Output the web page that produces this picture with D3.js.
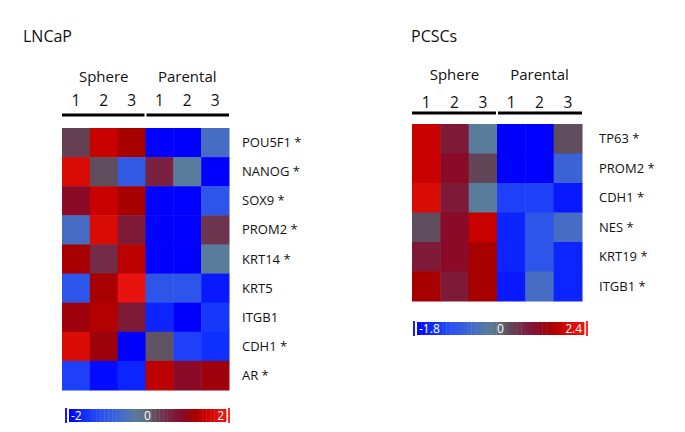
<!DOCTYPE html>
<html><head><meta charset="utf-8">
<script src="https://cdnjs.cloudflare.com/ajax/libs/d3/7.8.5/d3.min.js"></script>
<style>body{margin:0;background:#fff}svg{display:block}text{font-family:"Open Sans",sans-serif}</style>
</head><body><svg id="c" width="685" height="432"></svg>
<script>
const samples = ["1","2","3","1","2","3"];
const groups = ["Sphere","Parental"];
const lncapGenes = ["POU5F1 *","NANOG *","SOX9 *","PROM2 *","KRT14 *","KRT5","ITGB1","CDH1 *","AR *"];
const lncapValues = [
  [0.3,1.5,1.2,-2,-2,-0.6],
  [1.7,0.18,-1.0,0.6,-0.3,-2],
  [0.9,1.5,1.2,-2,-2,-1.1],
  [-0.6,1.7,0.7,-2,-2,0.4],
  [1.2,0.5,1.4,-2,-2,-0.3],
  [-1.1,1.2,1.9,-1.1,-1.1,-1.8],
  [1.1,1.3,0.7,-1.7,-2,-1.5],
  [1.7,1.1,-2,0.14,-1.4,-1.6],
  [-1.4,-1.9,-1.7,1.4,0.9,1.1]
];
const lncapLegend = ["-2","0","2"];
const pcscGenes = ["TP63 *","PROM2 *","CDH1 *","NES *","KRT19 *","ITGB1 *"];
const pcscValues = [
  [1.8,0.84,-0.27,-1.8,-1.8,0.22],
  [1.8,1.08,0.3,-1.8,-1.8,-0.72],
  [2.04,0.84,-0.27,-1.26,-1.26,-1.62],
  [0.22,1.08,1.8,-1.53,-0.99,-0.54],
  [0.84,1.08,1.44,-1.53,-0.99,-1.53],
  [1.44,0.84,1.44,-1.62,-0.54,-1.53]
];
const pcscLegend = ["-1.8","0","2.4"];

// normalized color ramp
const tStops = [-1,-0.8,-0.6,-0.35,-0.15,0,0.1,0.3,0.45,0.6,0.75,0.9,1];
const cStops = ["#0000ff","#1030ff","#2a50f0","#4068d0","#5a7c9c","#646a7a","#5e4a5a","#7a2040","#8a0a28","#a80000","#c80000","#e01008","#f01414"];
const ramp = d3.scaleLinear().domain(tStops).range(cStops).interpolate(d3.interpolateRgb).clamp(true);

const svg = d3.select("#c");

function panel(o){
  const g = svg.append("g");
  const norm = d3.scaleLinear().domain([o.min,0,o.max]).range([-1,0,1]);
  const x = d3.scaleBand().domain(d3.range(6)).range([o.x0,o.x1]);
  const y = d3.scaleBand().domain(o.genes).range([o.y0,o.y1]);
  g.append("text").attr("x",o.titleX).attr("y",42).attr("font-size",16).attr("fill","#111").text(o.title);
  const gx = d3.scaleBand().domain(groups).range([o.x0,o.x1]);
  g.selectAll(".grp").data(groups).join("text")
    .attr("x",d=>gx(d)+gx.bandwidth()/2).attr("y",o.grpY).attr("text-anchor","middle")
    .attr("font-size",15).attr("fill","#111").text(d=>d);
  g.selectAll(".smp").data(samples).join("text")
    .attr("x",(d,i)=>x(i)+x.bandwidth()/2).attr("y",o.smpY).attr("text-anchor","middle")
    .attr("font-size",15.5).attr("fill","#111").text(d=>d);
  groups.forEach((gname,i)=>{
    g.append("line").attr("x1",gx(gname)+(i?1:0)).attr("x2",gx(gname)+gx.bandwidth()-(i?0:1))
      .attr("y1",o.lineY).attr("y2",o.lineY).attr("stroke","#000").attr("stroke-width",3);
  });
  o.values.forEach((row,ri)=>{
    g.selectAll(null).data(row).join("rect")
      .attr("x",(d,i)=>x(i)).attr("y",y(o.genes[ri]))
      .attr("width",x.bandwidth()+0.5).attr("height",y.bandwidth()+0.5)
      .attr("fill",d=>ramp(norm(d)));
  });
  g.selectAll(".gl").data(o.genes).join("text")
    .attr("x",o.labelX).attr("y",d=>y(d)+y.bandwidth()/2+4.5)
    .attr("font-size",13).attr("fill","#111").text(d=>d);
  const lx = d3.scaleLinear().domain([0,1]).range([o.lgX0,o.lgX1]);
  const n = 40;
  const steps = d3.range(n);
  g.selectAll(".lg").data(steps).join("rect")
    .attr("x",d=>lx(d/n)).attr("width",lx(1/n)-lx(0)+0.4)
    .attr("y",o.lgY).attr("height",13)
    .attr("fill",d=>ramp(-1+2*(d+0.5)/n));
  g.append("rect").attr("x",o.lgX0-4).attr("y",o.lgY-1).attr("width",2).attr("height",15).attr("fill","#1a1aff");
  g.append("rect").attr("x",o.lgX1+2).attr("y",o.lgY-1).attr("width",2).attr("height",15).attr("fill","#ff2a2a");
  const pos = [0,0.5,1], anc=["start","middle","end"], off=[2,0,-2];
  g.selectAll(".ll").data(o.legend).join("text")
    .attr("x",(d,i)=>lx(pos[i])+off[i]).attr("y",o.lgY+11).attr("text-anchor",(d,i)=>anc[i])
    .attr("font-size",12).attr("fill","#fff").attr("font-family","Liberation Sans, Arial, sans-serif").text(d=>d);
}

panel({title:"LNCaP",titleX:23,genes:lncapGenes,values:lncapValues,min:-2,max:2,
  x0:62,x1:229,y0:128,y1:390,grpY:82,smpY:106,lineY:115,labelX:242,
  lgX0:69,lgX1:226,lgY:409,legend:lncapLegend});
panel({title:"PCSCs",titleX:411,genes:pcscGenes,values:pcscValues,min:-1.8,max:2.4,
  x0:412,x1:582,y0:124,y1:301,grpY:80,smpY:108,lineY:113,labelX:599,
  lgX0:417,lgX1:584,lgY:322,legend:pcscLegend});
</script></body></html>
